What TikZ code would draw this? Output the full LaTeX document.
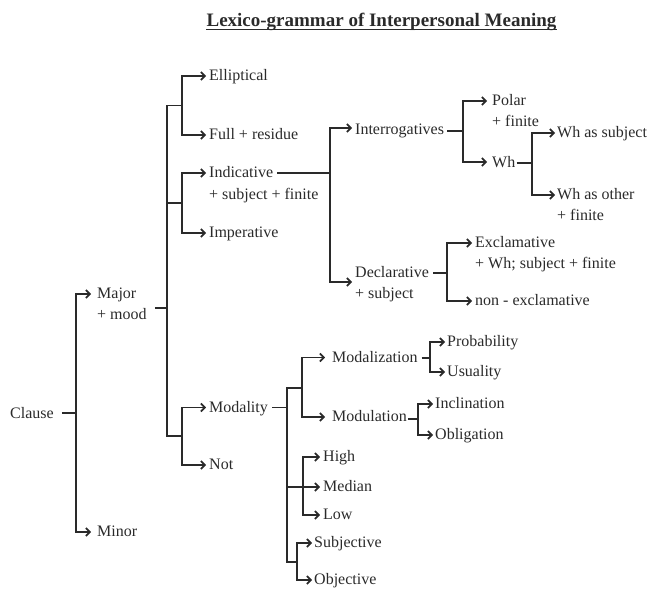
\documentclass[tikz,border=0pt]{standalone}
\usepackage{fontspec}
\setmainfont{Liberation Serif}
\usetikzlibrary{arrows.meta,calc}
\definecolor{ink}{HTML}{2A2A2A}
\begin{document}
\begin{tikzpicture}[x=1pt,y=-1pt,
  txt/.style={anchor=base west,inner sep=0pt,text=ink,font=\fontsize{16}{19}\selectfont},
  ln/.style={draw=ink,line width=1.8pt,line join=miter},
  ar/.style={ln,-{Straight Barb[length=3.8pt,width=8pt]}},
]
\useasboundingbox (0,0) rectangle (652,589);

% title
\node[anchor=base,inner sep=0pt,text=ink,font=\bfseries\fontsize{19}{22}\selectfont] (title) at (381.5,26) {Lexico-grammar of Interpersonal Meaning};
\draw[ink,line width=1.3pt] ($(title.base west)+(0,3.5)$) -- ($(title.base east)+(0,3.5)$);

% text nodes
\node[txt] (clause) at (10,418) {Clause};
\node[txt] (major) at (97,298.5) {Major};
\node[txt] (majorb) at (97,319.5) {+ mood};
\node[txt] (minor) at (97,536.5) {Minor};

\node[txt] (ell) at (209,80.5) {Elliptical};
\node[txt] (full) at (209,139.5) {Full + residue};
\node[txt] (ind) at (209,177.5) {Indicative};
\node[txt] (indb) at (209,199) {+ subject + finite};
\node[txt] (imp) at (209,237.5) {Imperative};
\node[txt] (modal) at (209,412) {Modality};
\node[txt] (not) at (209,469.5) {Not};

\node[txt] (inter) at (355,134) {Interrogatives};
\node[txt] (decl) at (355,277) {Declarative};
\node[txt] (declb) at (355,298) {+ subject};

\node[txt] (polar) at (492,105.5) {Polar};
\node[txt] (polarb) at (492,126.5) {+ finite};
\node[txt] (wh) at (492,167) {Wh};
\node[txt] (whsub) at (557,137.5) {Wh as subject};
\node[txt] (whoth) at (557,199.5) {Wh as other};
\node[txt] (whothb) at (557,220) {+ finite};

\node[txt] (excl) at (475,247.5) {Exclamative};
\node[txt] (exclb) at (475,268) {+ Wh; subject + finite};
\node[txt] (nonex) at (475,305.5) {non - exclamative};

\node[txt] (modz) at (332,362) {Modalization};
\node[txt] (modu) at (332,421.5) {Modulation};
\node[txt] (prob) at (447,346.5) {Probability};
\node[txt] (usu) at (447,376.5) {Usuality};
\node[txt] (incl) at (435,408.5) {Inclination};
\node[txt] (obl) at (435,439.5) {Obligation};

\node[txt] (high) at (323,461.5) {High};
\node[txt] (median) at (323,491.5) {Median};
\node[txt] (low) at (323,519.5) {Low};
\node[txt] (subj) at (314,547.5) {Subjective};
\node[txt] (obj) at (314,584.5) {Objective};

% junctions
\coordinate (c0) at (76,413);
\coordinate (ms) at (167,308);
\coordinate (m1) at (182,105.5);
\coordinate (m2) at (182,203);
\coordinate (m3) at (182,436);
\coordinate (i0) at (330,173);
\coordinate (p0) at (463,131);
\coordinate (w0) at (532,163);
\coordinate (d0) at (447,273);
\coordinate (q0) at (287,407.5);
\coordinate (q1) at (302,388);
\coordinate (q2) at (287,487);
\coordinate (q3) at (297,562);
\coordinate (q4) at (303,487);
\coordinate (z0) at (430,358);
\coordinate (u0) at (418,419);

% Clause
\draw[ln] ($(clause.base east)+(8,-5)$) -- (c0);
\draw[ar] (c0) |- ($(major.base west)+(-6,-4.5)$);
\draw[ar] (c0) |- ($(minor.base west)+(-6,-4.5)$);

% Major + mood
\draw[ln] ($(majorb.base east)+(8,-11.5)$) -- (ms);
\draw[ln] (m1) -| (ms) |- (m3);
\draw[ln] (m2) -- (m2 -| ms);
\draw[ar] (m1) |- ($(ell.base west)+(-3,-4.5)$);
\draw[ar] (m1) |- ($(full.base west)+(-3,-4.5)$);
\draw[ar] (m2) |- ($(ind.base west)+(-3,-4.5)$);
\draw[ar] (m2) |- ($(imp.base west)+(-3,-4.5)$);
\draw[ar] (m3) |- ($(modal.base west)+(-3,-4.5)$);
\draw[ar] (m3) |- ($(not.base west)+(-3,-4.5)$);

% Indicative
\draw[ln] ($(ind.base east)+(4,-4.5)$) -- (i0);
\draw[ar] (i0) |- ($(inter.base west)+(-3,-6)$);
\draw[ar] (i0) |- ($(decl.base west)+(-3,5)$);

% Interrogatives
\draw[ln] ($(inter.base east)+(3,-3)$) -- (p0);
\draw[ar] (p0) |- ($(polar.base west)+(-5,-4.5)$);
\draw[ar] (p0) |- ($(wh.base west)+(-5,-5)$);

% Wh
\draw[ln] ($(wh.base east)+(1,-4)$) -- (w0);
\draw[ar] (w0) |- ($(whsub.base west)+(-2,-4.5)$);
\draw[ar] (w0) |- ($(whoth.base west)+(-2,-4.5)$);

% Declarative
\draw[ln] ($(decl.base east)+(4,-4)$) -- (d0);
\draw[ar] (d0) |- ($(excl.base west)+(-3,-4.5)$);
\draw[ar] (d0) |- ($(nonex.base west)+(-3,-4.5)$);

% Modality
\draw[ln] ($(modal.base east)+(4,-4.5)$) -- (q0);
\draw[ln] (q1) -| (q0) |- (q3);
\draw[ar] (q2) -- ($(median.base west)+(-3,-4.5)$);
\draw[ar] (q4) |- ($(high.base west)+(-3,-4.5)$);
\draw[ar] (q4) |- ($(low.base west)+(-3,-4.5)$);
\draw[ar] (q1) |- ($(modz.base west)+(-7,-4.5)$);
\draw[ar] (q1) |- ($(modu.base west)+(-7,-4.5)$);
\draw[ar] (q3) |- ($(subj.base west)+(-2,-4.5)$);
\draw[ar] (q3) |- ($(obj.base west)+(-2,-4.5)$);

% Modalization / Modulation
\draw[ln] ($(modz.base east)+(4,-4)$) -- (z0);
\draw[ar] (z0) |- ($(prob.base west)+(-2,-4.5)$);
\draw[ar] (z0) |- ($(usu.base west)+(-2,-4.5)$);
\draw[ln] ($(modu.base east)+(1,-2.5)$) -- (u0);
\draw[ar] (u0) |- ($(incl.base west)+(-2,-4.5)$);
\draw[ar] (u0) |- ($(obl.base west)+(-2,-4.5)$);
\end{tikzpicture}
\end{document}
